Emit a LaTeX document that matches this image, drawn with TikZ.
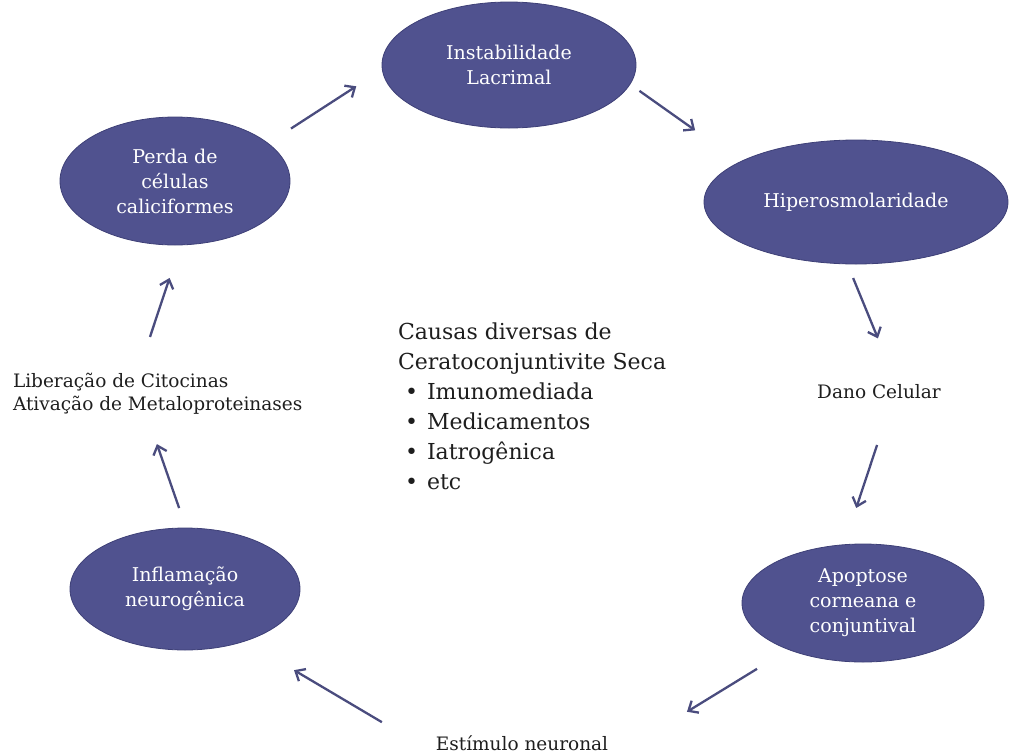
\documentclass[tikz,border=0pt]{standalone}
\usepackage{fontspec}
\setmainfont{DejaVu Serif}
\usetikzlibrary{arrows.meta,shapes.geometric}
\definecolor{ellfill}{HTML}{50528F}
\definecolor{ellline}{HTML}{3E4077}
\definecolor{arrcol}{HTML}{4A4C7E}
\definecolor{txt}{HTML}{1E1E1E}
\begin{document}
\begin{tikzpicture}[x=1pt,y=-1pt,
 ell/.style={ellipse,fill=ellfill,draw=ellline,line width=0.8pt,inner sep=0pt,outer sep=0pt,text=white,align=center,font=\fontsize{19}{25}\selectfont},
 lbl/.style={inner sep=0pt,outer sep=0pt,text=txt,font=\fontsize{18.5}{23}\selectfont},
 arr/.style={draw=arrcol,line width=2.3pt,-{Straight Barb[length=8pt,width=14pt]}},
]
\useasboundingbox (0,0) rectangle (1013,753);
% ellipses
\node[ell,minimum width=254pt,minimum height=126pt] (instab) at (509,65) {Instabilidade\\Lacrimal};
\node[ell,minimum width=304pt,minimum height=124pt] (hiper) at (856,202) {Hiperosmolaridade};
\node[ell,minimum width=230pt,minimum height=128pt] (perda) at (175,181) {Perda de\\células\\caliciformes};
\node[ell,minimum width=242pt,minimum height=118pt] (apop) at (863,603) {Apoptose\\corneana e\\conjuntival};
\node[ell,minimum width=230pt,minimum height=122pt] (inflam) at (185,589) {Inflamação\\neurogênica};
% plain labels
\node[lbl] (dano) at (879,392) {Dano Celular};
\node[lbl] (estim) at (522,743) {Estímulo neuronal};
\node[lbl,anchor=west,align=left] (lib) at (13,394) {Liberação de Citocinas\\Ativação de Metaloproteinases};
\node[lbl,anchor=north west,align=left,font=\fontsize{22}{30}\selectfont] (causas) at (398,323)
 {Causas diversas de\\Ceratoconjuntivite Seca\\
  \hspace*{7pt}\makebox[22pt][l]{•}Imunomediada\\
  \hspace*{7pt}\makebox[22pt][l]{•}Medicamentos\\
  \hspace*{7pt}\makebox[22pt][l]{•}Iatrogênica\\
  \hspace*{7pt}\makebox[22pt][l]{•}etc};
% connectors
\draw[arr,shorten <=27.3pt,shorten >=31pt] (perda.22.8) -- (instab.182.5);
\draw[arr,shorten <=11.6pt,shorten >=54.8pt] (instab.351.5) -- (hiper.161.2);
\draw[arr,shorten <=15.3pt,shorten >=58pt] (hiper.262.9) -- ([xshift=21pt]dano.center);
\draw[arr,shorten <=55.8pt,shorten >=38.7pt] ([xshift=15.6pt]dano.center) -- (apop.108.2);
\draw[arr,shorten <=37pt,shorten >=59.8pt] (apop.212.5) -- ([xshift=114pt]estim.center);
\draw[arr,shorten <=40.9pt,shorten >=57.1pt] ([xshift=-104.9pt]estim.center) -- (inflam.319.7);
\draw[arr,shorten <=21.1pt,shorten >=53pt] (inflam.89) -- ([xshift=126.5pt]lib.west);
\draw[arr,shorten <=60.1pt,shorten >=34.8pt] ([xshift=118pt]lib.west) -- (perda.275.4);
\end{tikzpicture}
\end{document}
